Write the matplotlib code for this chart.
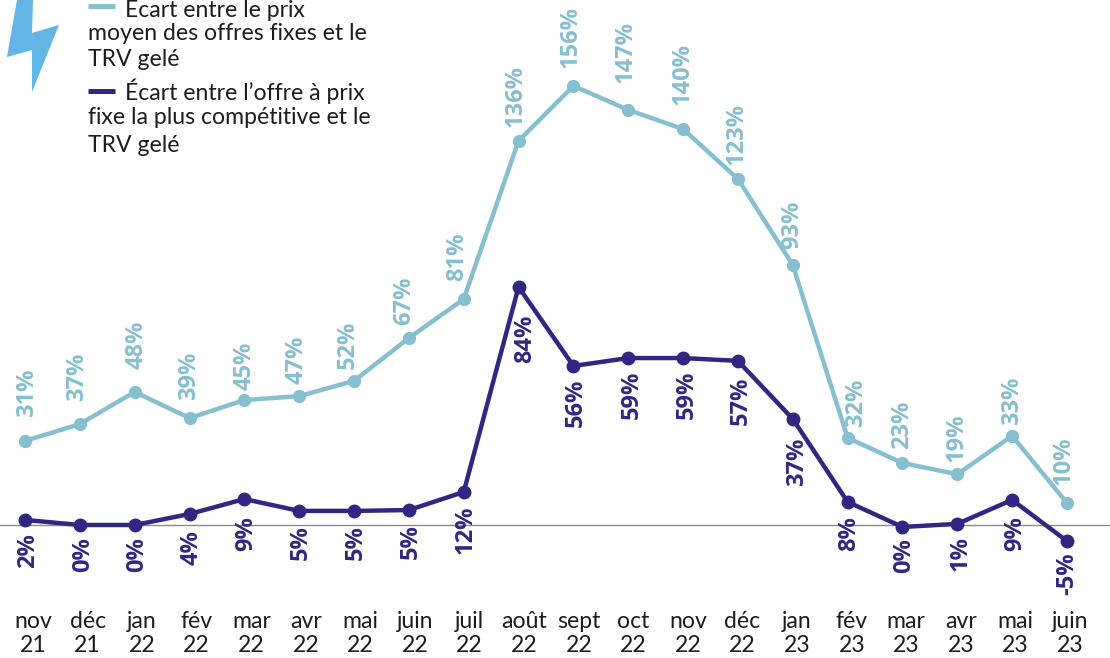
import matplotlib
matplotlib.use('Agg')
import matplotlib.pyplot as plt
from matplotlib.lines import Line2D
from matplotlib.patches import Polygon

plt.rcParams['font.family'] = ['Lato', 'DejaVu Sans']

months = ['nov\n21', 'déc\n21', 'jan\n22', 'fév\n22', 'mar\n22', 'avr\n22', 'mai\n22', 'juin\n22', 'juil\n22', 'août\n22',
          'sept\n22', 'oct\n22', 'nov\n22', 'déc\n22', 'jan\n23', 'fév\n23', 'mar\n23', 'avr\n23', 'mai\n23', 'juin\n23']

# values
moyen = [29.8, 35.8, 47.2, 37.9, 44.3, 45.7, 51.1, 66.3, 80.1, 136.2,
         155.7, 147.2, 140.4, 122.7, 92.2, 30.9, 22.0, 18.0, 31.6, 7.8]
competitive = [1.8, 0, 0, 3.9, 9.2, 5.0, 5.0, 5.3, 11.7, 84.4,
               56.4, 59.2, 59.2, 58.2, 37.6, 8.2, -0.7, 0.4, 8.9, -5.7]
moyen_labels = ['31%', '37%', '48%', '39%', '45%', '47%', '52%', '67%', '81%', '136%',
                '156%', '147%', '140%', '123%', '93%', '32%', '23%', '19%', '33%', '10%']
competitive_labels = ['2%', '0%', '0%', '4%', '9%', '5%', '5%', '5%', '12%', '84%',
                      '56%', '59%', '59%', '57%', '37%', '8%', '0%', '1%', '9%', '-5%']

# label nudges in pixels
moyen_dx = [2, -3, 2, 0, 0, -3, -6, -5, -7, -3, -3, -3, 0, -1, -1, 8, 0, -1, 0, -3]
moyen_dy = [24, 23, 23, 18, 10, 12, 12, 13, 18, 14, 18, 27, 24, 14, 16, 11, 14, 12, 11, 18]
competitive_dx = [3, 3, 2, 2, 2, 2, 2, 2, 2, 7, 2, 4, 4, 3, 4, 2, 2, 3, 3, 0]
competitive_dy = [13, 12, 12, 16, 17, 14, 14, 14, 13, 28, 13, 13, 13, 16, 19, 14, 11, 12, 16, 11]

light = '#86bfd0'
dark = '#312783'
ink = '#1d1d1b'
W, H = 1110, 658

fig = plt.figure(figsize=(W / 100, H / 100), dpi=100)
ax = fig.add_axes([0, 58 / H, 1, 600 / H])
ax.set_xlim(-25 / 54.84, (W - 25) / 54.84)
ax.set_ylim(-75 / 2.82, 525 / 2.82)

x = list(range(len(months)))
ax.plot([-0.46, 19.76], [0, 0], color='#8a8a8a', lw=1, zorder=1)
ax.plot(x, moyen, color=light, lw=3.2, marker='o', ms=8.5, zorder=2)
ax.plot(x, competitive, color=dark, lw=3.2, marker='o', ms=9, zorder=3)

for i in x:
    ax.annotate(moyen_labels[i], (i, moyen[i]), xytext=(moyen_dx[i] * 0.72, moyen_dy[i] * 0.72),
                textcoords='offset points', rotation=90, ha='center', va='bottom',
                color=light, fontsize=17, fontweight='bold', family='Open Sans')
    ax.annotate(competitive_labels[i], (i, competitive[i]),
                xytext=(competitive_dx[i] * 0.72, -competitive_dy[i] * 0.72),
                textcoords='offset points', rotation=90, ha='center', va='top',
                color=dark, fontsize=17, fontweight='bold', family='Open Sans')

# the month labels sit slightly right of the points and drift back along the axis
ax.set_xticks([(33 + 54.58 * i - 25) / 54.84 for i in x])
ax.set_xticklabels(months, fontsize=16.6, color=ink, linespacing=1.15)
ax.tick_params(axis='x', length=0, pad=8)
ax.set_yticks([])
for s in ax.spines.values():
    s.set_visible(False)


def px(a, b):
    return a / W, 1 - b / H


# legend, built by hand because the first line of each label sits beside the key
legend_lines = [(125, 8, 'Écart entre le prix'), (88, 33, 'moyen des offres fixes et le'), (88, 59, 'TRV gelé'),
                (125, 91, 'Écart entre l’offre à prix'), (88, 118, 'fixe la plus compétitive et le'), (88, 146, 'TRV gelé')]
for a, b, t in legend_lines:
    fx, fy = px(a, b)
    fig.text(fx, fy, t, fontsize=16.6, color=ink, ha='left', va='center')
for b, c in [(6, light), (91, dark)]:
    x0, y0 = px(88, b)
    x1, _ = px(115, b)
    fig.add_artist(Line2D([x0, x1], [y0, y0], color=c, lw=3.6, solid_capstyle='butt'))

# lightning bolt
bolt = [px(17, 0), px(33, 0), px(32, 33), px(59, 25), px(32, 92), px(32, 50), px(7, 57)]
fig.add_artist(Polygon(bolt, closed=True, facecolor='#62b5e5', edgecolor='none', transform=fig.transFigure))

fig.savefig('out.png', dpi=100)
